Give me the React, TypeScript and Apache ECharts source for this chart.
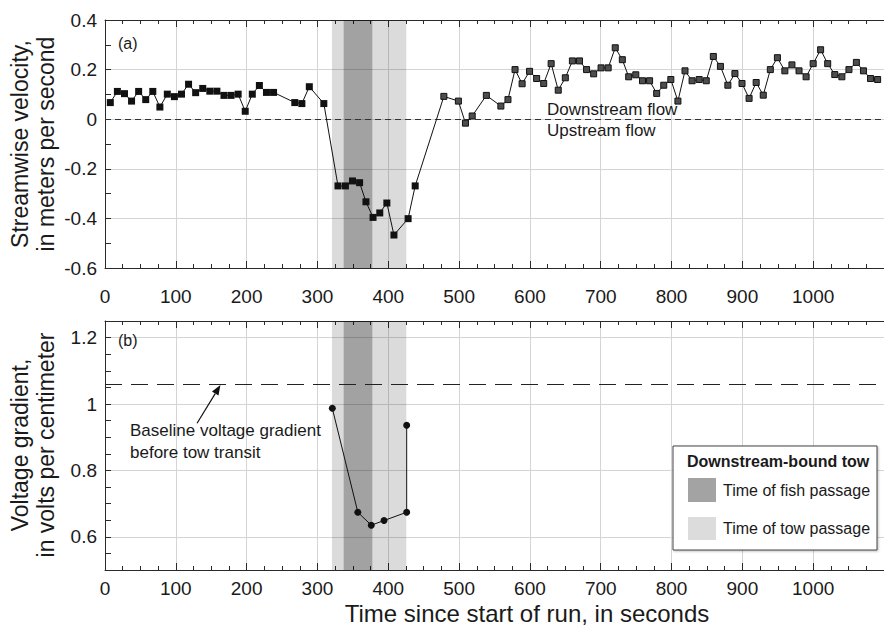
import React, { useEffect, useRef } from "react";
import * as echarts from "echarts";

// ---- Data ----
const velTime = [
  7.5, 17.5, 27.5, 37.5, 47.5, 57.5, 67.5, 77.5, 88, 98, 108, 118, 128, 138, 148, 158, 168, 178, 188, 198, 208, 218, 228, 238,
  268, 278, 288.5, 309,
  329, 339.5, 349.5, 359.5, 368.5, 378.5, 388, 398, 408, 428, 438,
  478.5, 499, 509, 518.5, 538.5, 559, 569,
  579, 589, 599.5, 609.5, 619.5, 630, 640, 650, 660, 670,
  680, 690, 700.5, 710.5, 720.5, 730.5, 739.5, 749.5, 759, 769,
  779, 789, 799, 809, 819, 829, 839, 849, 859, 869,
  879.5, 889.5, 899.5, 909.5, 919.5, 929.5, 939.5, 949.5, 960, 970,
  980, 990, 1000, 1010.5, 1020.5, 1030.5, 1040.5, 1050.5, 1061, 1071,
  1081, 1091,
];
const velValue = [
  0.067, 0.112, 0.103, 0.073, 0.112, 0.079, 0.112, 0.049, 0.101, 0.091, 0.101, 0.141, 0.107, 0.124, 0.113, 0.113, 0.096, 0.096, 0.101, 0.032, 0.101, 0.136, 0.108, 0.108,
  0.067, 0.063, 0.131, 0.063,
  -0.269, -0.269, -0.249, -0.256, -0.333, -0.396, -0.378, -0.338, -0.467, -0.401, -0.269,
  0.092, 0.073, -0.016, 0.013, 0.096, 0.053, 0.079,
  0.2, 0.143, 0.193, 0.164, 0.144, 0.224, 0.117, 0.167, 0.235, 0.235,
  0.2, 0.183, 0.207, 0.207, 0.288, 0.24, 0.171, 0.179, 0.155, 0.155,
  0.104, 0.137, 0.16, 0.073, 0.195, 0.155, 0.16, 0.155, 0.253, 0.213,
  0.137, 0.184, 0.144, 0.084, 0.148, 0.097, 0.2, 0.248, 0.195, 0.219,
  0.195, 0.171, 0.224, 0.28, 0.224, 0.18, 0.171, 0.2, 0.229, 0.195,
  0.164, 0.16,
];
const grayMarkerFrom = 470; // seconds: later markers drawn with gray fill

const voltTime = [321, 357, 376, 394, 426, 426];
const voltValue = [0.987, 0.674, 0.635, 0.649, 0.674, 0.936];
const baselineVoltage = 1.057;

const towPassage = [320.5, 425.5];
const fishPassage = [337, 377.5];

const xTickMax = 1100;
const topYRange = [-0.6, 0.4];
const bottomYRange = [0.5, 1.25];
const bottomYGrid = [0.6, 0.8, 1.0, 1.2];
const arrowTail = [130, 0.942];
const arrowTip = [163, baselineVoltage];

const FONT = "'Liberation Sans', Arial, Helvetica, sans-serif";
const AXIS = "#2a2a2a";
const GRID = "#d4d4d4";
const TEXT = "#1a1a1a";

export default function App() {
  const ref = useRef<HTMLDivElement>(null);
  useEffect(() => {
    const chart = echarts.init(ref.current!, null, { renderer: "svg" });

    const xPair = (gridIndex: number, labelMargin: number) => [
      {
        type: "value", gridIndex, min: 0, max: xTickMax, interval: 100, position: "bottom",
        axisLine: { show: true, onZero: false, lineStyle: { color: AXIS, width: 1 } },
        axisTick: { show: true, inside: true, length: 7, lineStyle: { color: AXIS } },
        minorTick: { show: true, splitNumber: 4, length: 4, lineStyle: { color: AXIS } },
        axisLabel: {
          show: true, fontSize: 19, color: TEXT, fontFamily: FONT, margin: labelMargin, showMaxLabel: false,
          formatter: (v: number) => String(Math.round(v)),
        },
        splitLine: { show: true, lineStyle: { color: GRID, width: 1 } },
      },
      {
        type: "value", gridIndex, min: 0, max: xTickMax, interval: 100, position: "top",
        axisLine: { show: true, onZero: false, lineStyle: { color: AXIS, width: 1 } },
        axisTick: { show: true, inside: true, length: 7, lineStyle: { color: AXIS } },
        minorTick: { show: true, splitNumber: 4, length: 4, lineStyle: { color: AXIS } },
        axisLabel: { show: false },
        splitLine: { show: false },
      },
    ];

    const bandArea = {
      silent: true,
      z: 1,
      label: { show: false },
      data: [
        [{ xAxis: towPassage[0], itemStyle: { color: "rgba(0,0,0,0.14)" } }, { xAxis: towPassage[1] }],
        [{ xAxis: fishPassage[0], itemStyle: { color: "rgba(0,0,0,0.26)" } }, { xAxis: fishPassage[1] }],
      ],
    };

    const velData = velTime.map((t, i) => {
      const gray = t >= grayMarkerFrom;
      return {
        value: [t, velValue[i]],
        symbolSize: gray ? 6 : 7,
        itemStyle: gray
          ? { color: "#4d4d4d", borderColor: "#111", borderWidth: 1 }
          : { color: "#111", borderWidth: 0 },
      };
    });

    const option: any = {
      animation: false,
      backgroundColor: "#fff",
      textStyle: { fontFamily: FONT },
      grid: [
        { left: 105, top: 20, right: -10, height: 248, containLabel: false },
        { left: 105, top: 321, right: -10, height: 249, containLabel: false },
      ],
      xAxis: [...xPair(0, 19), ...xPair(1, 9)],
      yAxis: [
        {
          type: "value", gridIndex: 0, min: topYRange[0], max: topYRange[1], interval: 0.2,
          axisLine: { show: true, onZero: false, lineStyle: { color: AXIS, width: 1 } },
          axisTick: { show: true, inside: true, length: 6, lineStyle: { color: AXIS } },
          minorTick: { show: true, splitNumber: 2, length: 6, lineStyle: { color: AXIS } },
          axisLabel: {
            fontSize: 19, color: TEXT, fontFamily: FONT, margin: 8,
            formatter: (v: number) => (Math.abs(v) < 1e-9 ? "0" : (Math.round(v * 10) / 10).toFixed(1)),
          },
          splitLine: { show: true, lineStyle: { color: GRID, width: 1 } },
        },
        {
          type: "value", gridIndex: 1, min: bottomYRange[0], max: bottomYRange[1], interval: 0.05,
          axisLine: { show: true, onZero: false, lineStyle: { color: AXIS, width: 1 } },
          axisTick: { show: true, inside: true, length: 6, lineStyle: { color: AXIS } },
          axisLabel: {
            fontSize: 19, color: TEXT, fontFamily: FONT, margin: 8, showMinLabel: true, showMaxLabel: true,
            formatter: (v: number) => {
              const k = Math.round(v * 10);
              if (Math.abs(v * 10 - k) > 1e-6 || k % 2 !== 0) return "";
              return k === 10 ? "1" : (k / 10).toFixed(1);
            },
          },
          splitLine: { show: false },
        },
      ],
      series: [
        {
          type: "line", xAxisIndex: 0, yAxisIndex: 0, data: [], z: 1,
          markArea: bandArea,
        },
        {
          type: "line", xAxisIndex: 0, yAxisIndex: 0, z: 3,
          data: velData, symbol: "rect", clip: true,
          lineStyle: { color: "#111", width: 1 },
          markLine: {
            silent: true, symbol: "none", z: 2, label: { show: false },
            lineStyle: { color: "#333", width: 1, type: [6, 4] },
            data: [{ yAxis: 0 }],
          },
        },
        {
          type: "line", xAxisIndex: 2, yAxisIndex: 1, data: [], z: 0,
          markLine: {
            silent: true, symbol: "none", z: 0, label: { show: false },
            lineStyle: { color: GRID, width: 1, type: "solid" },
            data: bottomYGrid.map((v) => ({ yAxis: v })),
          },
        },
        {
          type: "line", xAxisIndex: 2, yAxisIndex: 1, data: [], z: 1,
          markArea: bandArea,
        },
        {
          type: "line", xAxisIndex: 2, yAxisIndex: 1, z: 3,
          data: voltTime.map((t, i) => [t, voltValue[i]]),
          symbol: "circle", symbolSize: 7,
          itemStyle: { color: "#111" },
          lineStyle: { color: "#111", width: 1 },
          markLine: {
            silent: true, symbol: "none", z: 2, label: { show: false },
            lineStyle: { color: "#222", width: 1.2, type: [17, 9] },
            data: [{ yAxis: baselineVoltage }],
          },
        },
      ],
    };
    chart.setOption(option);

    const tail = chart.convertToPixel({ gridIndex: 1 } as any, arrowTail) as number[];
    const tip = chart.convertToPixel({ gridIndex: 1 } as any, arrowTip) as number[];
    const dx = tip[0] - tail[0];
    const dy = tip[1] - tail[1];
    const len = Math.sqrt(dx * dx + dy * dy);
    const ux = dx / len, uy = dy / len;
    const hl = 10, hw = 3.8;
    const bx = tip[0] - ux * hl, by = tip[1] - uy * hl;
    const head = [
      [tip[0], tip[1]],
      [bx - uy * hw, by + ux * hw],
      [bx + uy * hw, by - ux * hw],
    ];

    const txt = (text: string, x: number, y: number, size: number, extra: any = {}, rot = 0) => ({
      type: "text", x, y, z: 200, rotation: rot,
      style: { text, fontSize: size, fontFamily: FONT, fill: TEXT, align: "left", verticalAlign: "middle", ...extra },
    });
    const R = Math.PI / 2;

    chart.setOption({
      graphic: [
        { type: "line", z: 150, shape: { x1: tail[0], y1: tail[1], x2: bx, y2: by }, style: { stroke: "#111", lineWidth: 1.2 } },
        { type: "polygon", z: 150, shape: { points: head }, style: { fill: "#111" } },
        txt("(a)", 118, 43, 16),
        txt("(b)", 118, 340, 16),
        txt("Downstream flow", 547, 109, 17),
        txt("Upstream flow", 547, 130, 17),
        txt("Baseline voltage gradient", 130, 430, 17),
        txt("before tow transit", 130, 452, 17),
        {
          type: "rect", z: 180, shape: { x: 673, y: 446, width: 204, height: 104 },
          style: { fill: "#fff", stroke: "#444", lineWidth: 1, shadowBlur: 2, shadowColor: "rgba(0,0,0,0.25)", shadowOffsetX: 1, shadowOffsetY: 1 },
        },
        txt("Downstream-bound tow", 687, 461, 16, { fontWeight: "bold" }),
        { type: "rect", z: 190, shape: { x: 688, y: 478, width: 28, height: 24 }, style: { fill: "#a3a3a3" } },
        txt("Time of fish passage", 723, 490, 16),
        { type: "rect", z: 190, shape: { x: 688, y: 517, width: 28, height: 23 }, style: { fill: "#dcdcdc" } },
        txt("Time of tow passage", 723, 528, 16),
        txt("Streamwise velocity,", 20, 144, 23, { align: "center" }, R),
        txt("in meters per second", 46, 144, 23, { align: "center" }, R),
        txt("Voltage gradient,", 20, 445, 23, { align: "center" }, R),
        txt("in volts per centimeter", 46, 445, 23, { align: "center" }, R),
        txt("Time since start of run, in seconds", 527, 613, 24, { align: "center" }),
      ],
    });

    return () => chart.dispose();
  }, []);
  return <div ref={ref} style={{ position: "absolute", left: 0, top: 0, width: 884, height: 628 }} />;
}
